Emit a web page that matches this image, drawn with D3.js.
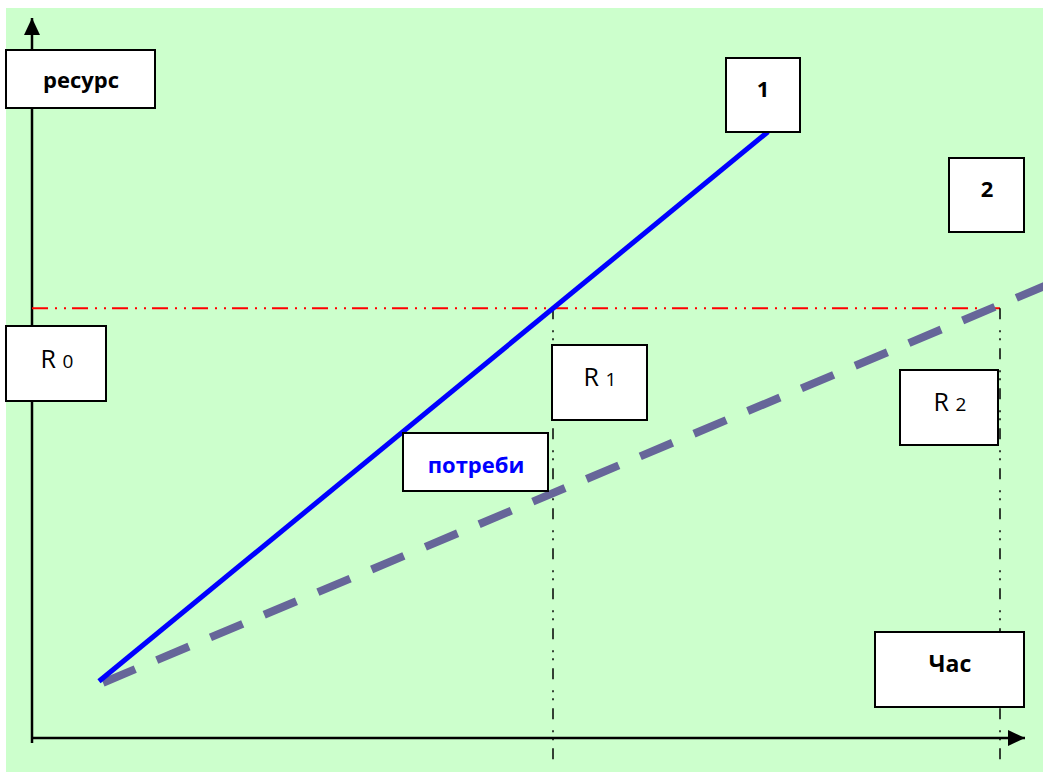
<!DOCTYPE html>
<html lang="uk">
<head>
<meta charset="UTF-8">
<title>ресурс / потреби</title>
<script src="https://cdn.jsdelivr.net/npm/d3@7"></script>
<style>
  body { margin: 0; background: #fff; overflow: hidden; }
  svg { display: block; }
  svg text { font-family: "Open Sans", "Noto Sans", sans-serif; }
</style>
</head>
<body>
<script>
// дані (умовні одиниці: час 0..100, ресурс 0..100)
const needLine = [[6.7, 8.1], [73.6, 86.6]];      // лінія 1 – потреби
const resourceLine = [[7.1, 7.9], [101.3, 64.6]]; // лінія 2 – ресурс
const R0 = 61.4;   // рівень ресурсу
const t1 = 52.1;   // момент R1
const t2 = 96.8;   // момент R2

const axisLabels = ['ресурс', 'Час'];
const lineLabels = ['1', '2', 'потреби'];
const levelLabels = [['R', '0'], ['R', '1'], ['R', '2']];

const W = 1043, H = 779;
let svg = d3.select('body').append('svg')
    .attr('width', W)
    .attr('height', H);

let x = d3.scaleLinear().domain([0, 100]).range([32, 1032]);
let y = d3.scaleLinear().domain([0, 100]).range([738, 38]);

// фон
svg.append('rect')
    .attr('x', 6).attr('y', 8)
    .attr('width', W - 6).attr('height', 764)
    .attr('fill', '#ccffcc');

// стрілки
let defs = svg.append('defs');
defs.append('marker')
    .attr('id', 'arr')
    .attr('viewBox', '0 0 17 16')
    .attr('refX', 17).attr('refY', 8)
    .attr('markerWidth', 17).attr('markerHeight', 16)
    .attr('markerUnits', 'userSpaceOnUse')
    .attr('orient', 'auto')
    .append('path')
    .attr('d', 'M0,0 L17,8 L0,16 Z')
    .attr('fill', '#000');

// осі
svg.append('line')
    .attr('x1', x(0)).attr('y1', y(0) + 5)
    .attr('x2', x(0)).attr('y2', 18)
    .attr('stroke', '#000').attr('stroke-width', 2.5)
    .attr('marker-end', 'url(#arr)');
svg.append('line')
    .attr('x1', x(0)).attr('y1', y(0))
    .attr('x2', 1025).attr('y2', y(0))
    .attr('stroke', '#000').attr('stroke-width', 2.5)
    .attr('marker-end', 'url(#arr)');

// рівень R0
svg.append('line')
    .attr('x1', x(0)).attr('y1', y(R0))
    .attr('x2', x(t2)).attr('y2', y(R0))
    .attr('stroke', '#ff0000').attr('stroke-width', 2)
    .attr('stroke-dasharray', '16,7,2,7,2,6');

// вертикалі t1, t2
[t1, t2].forEach(t => {
    svg.append('line')
        .attr('x1', x(t)).attr('y1', y(R0))
        .attr('x2', x(t)).attr('y2', 760)
        .attr('stroke', '#000').attr('stroke-width', 1.5)
        .attr('stroke-dasharray', '11,11,2,6,2,8');
});

let line = d3.line().x(d => x(d[0])).y(d => y(d[1]));

svg.append('path')
    .attr('d', line(resourceLine))
    .attr('fill', 'none')
    .attr('stroke', '#666699').attr('stroke-width', 8)
    .attr('stroke-dasharray', '35,23.3');

svg.append('path')
    .attr('d', line(needLine))
    .attr('fill', 'none')
    .attr('stroke', '#0000ff').attr('stroke-width', 5);

// підписи в рамках
function box(x0, y0, w, h) {
    svg.append('rect')
        .attr('x', x0).attr('y', y0)
        .attr('width', w).attr('height', h)
        .attr('fill', '#fff')
        .attr('stroke', '#000').attr('stroke-width', 2);
}
function label(txt, cx, cy, size, color) {
    svg.append('text')
        .attr('x', cx).attr('y', cy)
        .attr('text-anchor', 'middle')
        .attr('dominant-baseline', 'central')
        .attr('font-size', size)
        .attr('font-weight', 'bold')
        .attr('fill', color || '#000')
        .text(txt);
}

box(6, 50, 149, 58);   label(axisLabels[0], 81, 79, 22);
box(875, 632, 149, 75); label(axisLabels[1], 950, 663, 23);
box(726, 58, 74, 74);  label(lineLabels[0], 763, 88, 22);
box(949, 158, 75, 74); label(lineLabels[1], 987, 188, 22);
box(403, 433, 145, 58); label(lineLabels[2], 476, 464, 22, '#0000ff');

let levelBoxes = [[6, 326, 100, 75, 57, 359], [552, 345, 95, 75, 600, 377], [900, 370, 98, 75, 950, 402]];
levelLabels.forEach((l, i) => {
    let b = levelBoxes[i];
    box(b[0], b[1], b[2], b[3]);
    let t = svg.append('text')
        .attr('x', b[4]).attr('y', b[5] + 9)
        .attr('text-anchor', 'middle')
        .attr('font-size', 25);
    t.append('tspan').text(l[0] + ' ');
    t.append('tspan').attr('font-size', 19).text(l[1]);
});
</script>
</body>
</html>
